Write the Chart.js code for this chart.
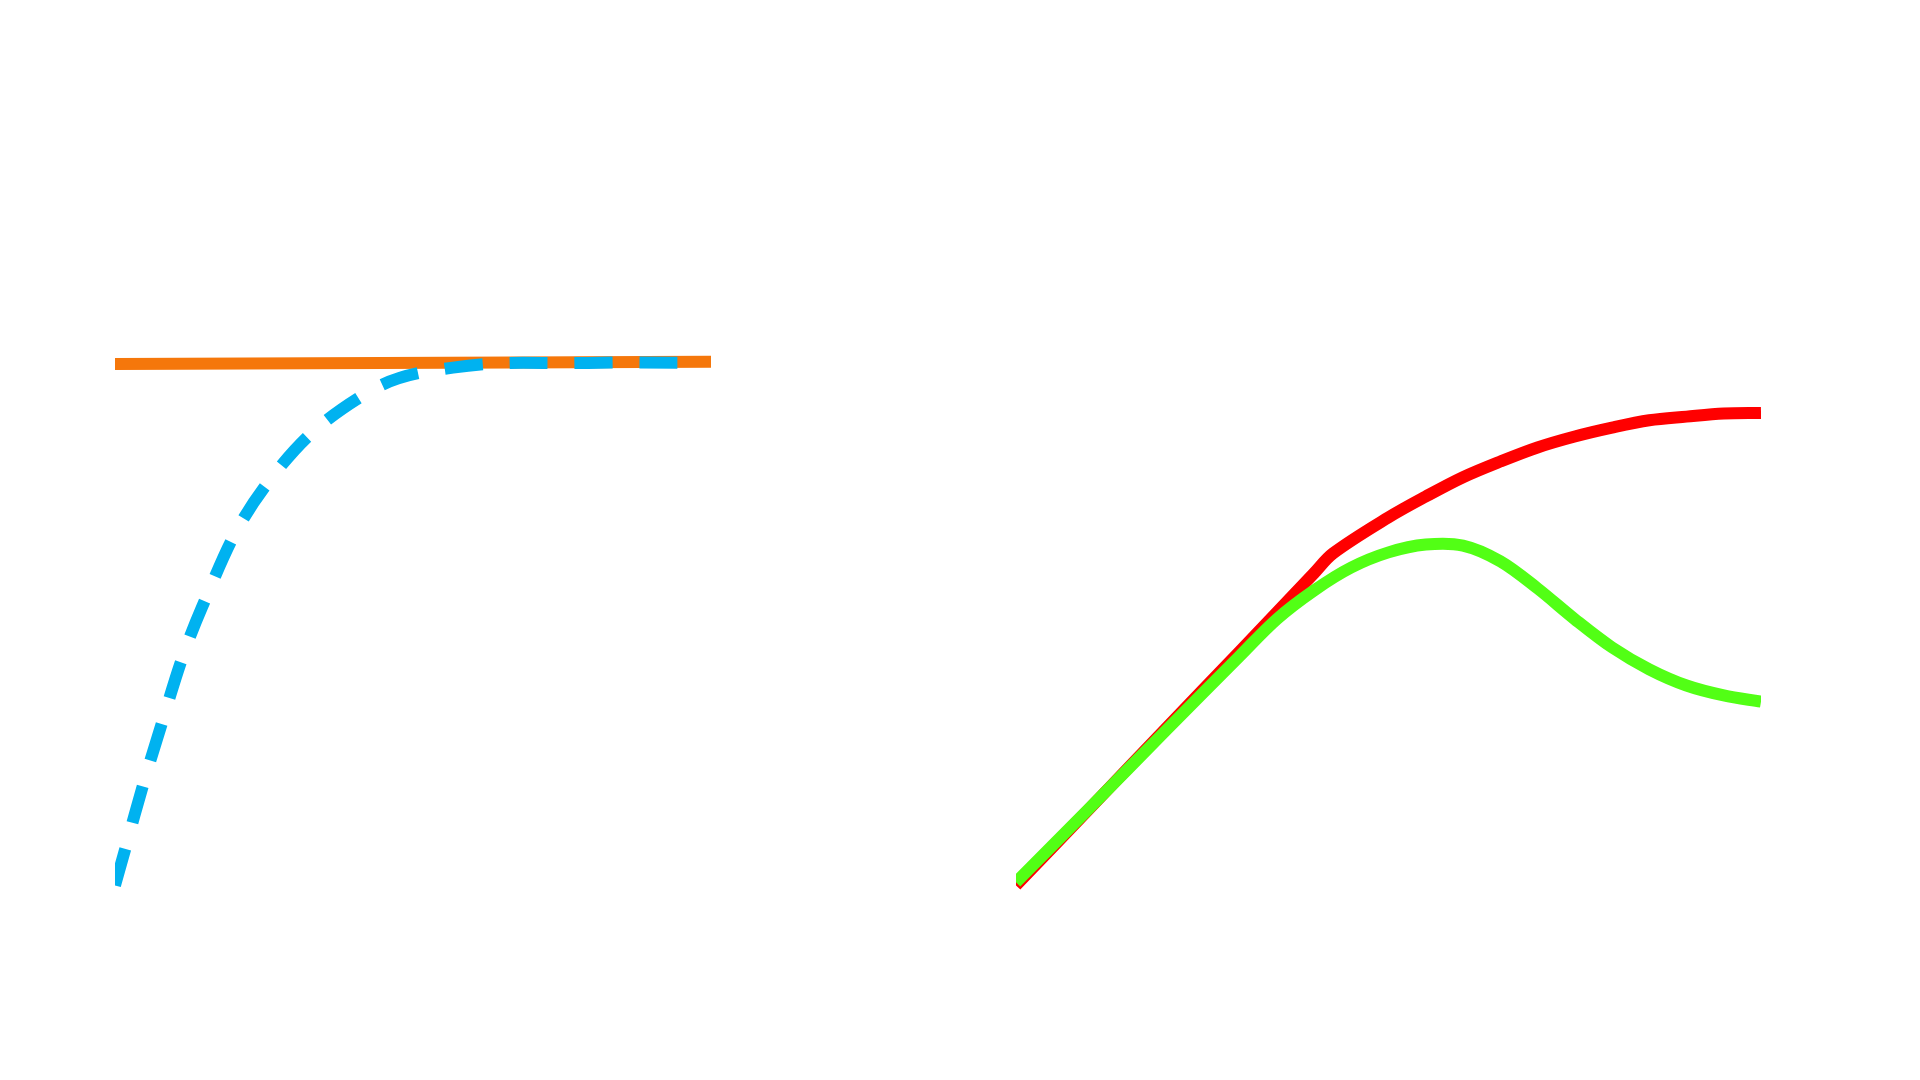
<!DOCTYPE html>
<html>
  <head>
    <title>Curves</title>
    <script src="https://cdn.jsdelivr.net/npm/chart.js"></script>
    <style>
      body {
        margin: 0;
        background-color: #ffffff;
        width: 1920px;
        height: 1080px;
        overflow: hidden;
        position: relative;
      }
      .chart-box {
        position: absolute;
        top: 258.6px;
        height: 678.6px;
      }
      #leftBox { left: 115px; width: 596px; }
      #rightBox { left: 1016px; width: 745px; }
    </style>
  </head>
  <body>
    <div class="chart-box" id="leftBox"><canvas id="leftChart"></canvas></div>
    <div class="chart-box" id="rightBox"><canvas id="rightChart"></canvas></div>

    <script>
      // left panel
      const flatX = [0, 10];
      const flatY = [0.999, 1.003];
      const riseX = [0, 0.671, 1.46, 2.567, 4.161, 5.671, 7.936, 9.53];
      const riseY = [0, 0.268, 0.533, 0.772, 0.939, 0.992, 1.001, 1.001];

      // right panel
      const redX = [0, 1, 2, 3, 4, 4.255, 5, 5.5, 6, 6.5, 7, 7.5, 8, 8.5, 9, 9.5, 10];
      const redY = [0, 0.149, 0.299, 0.448, 0.598, 0.636, 0.705, 0.745, 0.782, 0.812, 0.839, 0.86, 0.877, 0.891, 0.898, 0.904, 0.905];
      const greenX = [0, 1, 2, 3, 3.5, 4, 4.5, 5, 5.5, 6, 6.5, 7, 7.5, 8, 8.5, 9, 9.5, 10];
      const greenY = [0.006, 0.15, 0.295, 0.439, 0.51, 0.565, 0.609, 0.638, 0.653, 0.651, 0.621, 0.569, 0.51, 0.456, 0.414, 0.383, 0.364, 0.352];

      const toPoints = (xs, ys) => xs.map((x, i) => ({ x: x, y: ys[i] }));

      function hiddenScales() {
        return {
          x: { type: "linear", min: 0, max: 10, display: false },
          y: { type: "linear", min: -0.1, max: 1.2, display: false },
        };
      }

      const baseOptions = () => ({
        responsive: true,
        maintainAspectRatio: false,
        animation: false,
        layout: { padding: 0, autoPadding: false },
        plugins: { legend: { display: false }, tooltip: { enabled: false } },
        elements: { point: { radius: 0 } },
        scales: hiddenScales(),
      });

      new Chart(document.getElementById("leftChart"), {
        type: "line",
        data: {
          datasets: [
            {
              data: toPoints(riseX, riseY),
              borderColor: "#00B2F0",
              borderWidth: 12,
              borderDash: [38, 27],
              tension: 0.4,
            },
            {
              data: toPoints(flatX, flatY),
              borderColor: "#F5770B",
              borderWidth: 12,
              tension: 0,
            },
          ],
        },
        options: baseOptions(),
      });

      new Chart(document.getElementById("rightChart"), {
        type: "line",
        data: {
          datasets: [
            {
              data: toPoints(greenX, greenY),
              borderColor: "#52FF15",
              borderWidth: 12,
              tension: 0.333,
            },
            {
              data: toPoints(redX, redY),
              borderColor: "#FF0000",
              borderWidth: 12,
              tension: 0.333,
            },
          ],
        },
        options: baseOptions(),
      });
    </script>
  </body>
</html>
